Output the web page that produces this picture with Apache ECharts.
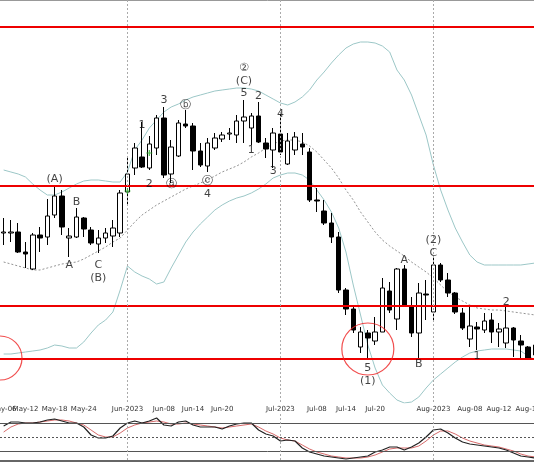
<!DOCTYPE html>
<html><head><meta charset="utf-8">
<script src="https://cdn.jsdelivr.net/npm/echarts@6/dist/echarts.min.js"></script>
<style>html,body{margin:0;padding:0;background:#fff}#c{width:534px;height:462px}</style>
</head><body><div id="c"></div>
<script>
// Values (vertical position units, larger = lower price). [open, close, high, low]
const candles = [
[233,232,218,245],[233,232,220,242],[232,252,223,253],[252,254,242,268],[269,235,233,270],
[235,238,227,252],[237,216,199,245],[215,196,187,218],[196,227,190,235],[238,236,228,257],
[237,217,208,238],[218,229,217,237],[230,243,227,245],[244,238,230,253],[238,233,228,243],
[236,228,220,247],[233,193,190,237],[192,174,158,205],[168,148,143,175],[157,167,122,168],
[168,144,136,170],[148,118,115,155],[118,175,107,178],[174,147,140,183],[156,123,120,157],
[124,126,110,128],[126,151,123,170],[151,165,143,167],[166,143,138,172],[148,138,133,150],
[139,135,132,142],[134,133,128,140],[135,121,115,143],[121,117,100,143],[128,116,113,145],
[116,142,102,143],[143,149,138,158],[150,133,128,168],[134,152,113,155],[164,141,133,165],
[150,137,132,155],[144,147,133,155],[152,200,148,202],[200,201,188,212],[211,223,200,225],
[223,237,213,243],[237,290,232,293],[290,309,288,315],[309,330,307,333],[347,332,327,353],
[333,338,330,358],[341,332,317,345],[332,288,278,332],[291,310,282,313],[319,269,268,330],
[269,305,265,305],[306,333,297,337],[333,293,283,358],[294,295,280,320],[312,265,257,320],
[265,280,263,282],[280,293,273,297],[293,312,292,314],[313,328,308,330],[339,326,305,347],
[327,329,322,350],[330,321,313,333],[320,332,313,343],[332,329,323,347],[343,328,305,348],
[328,340,327,357],[341,345,335,358],[347,358,346,360],[355,345,340,360]
];
const upperBand = [170,172,174,177,184,190,195,195,192,188,184,181,180,180,181,182,182,172,150,140,128,120,112,107,104,100,97,95,93,91,90,89,88,88,89,91,95,99,103,105,102,97,90,80,72,63,55,48,44,42,42,43,46,52,70,80,95,115,135,165,190,210,228,242,255,262,265,265,265,265,265,265,264,263];
const midBand = [262,264,266,268,270,270,268,266,264,263,262,259,255,251,247,242,238,230,222,215,210,205,201,197,193,189,186,183,180,176,172,169,166,162,157,153,148,144,141,140,140,142,146,152,160,168,178,190,200,212,222,232,240,246,251,256,262,267,272,278,285,292,297,301,305,308,309,310,310,311,312,313,314,315];
const lowerBand = [354,354,353,352,351,350,348,345,346,348,348,342,333,325,320,312,290,266,272,276,279,284,282,268,255,242,232,224,217,210,205,201,198,196,193,189,184,178,175,173,173,175,180,190,200,212,228,252,285,315,345,368,385,393,400,403,402,397,388,380,374,368,362,357,353,351,350,349,349,349,350,351,356,360];
const oscMain = [426,422,422,423,423,422,420,419,421,423,423,427,435,438,438,436,428,423,421,423,421,418,425,426,422,421,425,427,427,427,429,426,424,423,423,430,434,436,441,440,441,448,452,454,456,457,458,459,458,457,456,452,450,447,447,450,447,443,437,430,429,433,438,442,444,445,446,447,448,450,453,456,457,458];
const oscSignal = [432,427,424,423,423,422,421,420,420,421,423,425,430,435,437,437,433,428,425,423,422,421,422,424,424,423,424,425,426,427,428,427,426,425,424,427,431,434,438,440,441,445,449,452,454,456,457,458,458,458,457,455,452,449,448,448,448,446,441,435,431,431,434,438,441,443,445,446,447,449,451,454,456,457];
const tickLabels = {0:'May-06',3:'May-12',7:'May-18',11:'May-24',17:'Jun-2023',22:'Jun-08',26:'Jun-14',30:'Jun-20',38:'Jul-2023',43:'Jul-08',47:'Jul-14',51:'Jul-20',59:'Aug-2023',64:'Aug-08',68:'Aug-12',72:'Aug-18'};
const levels = [27,186,306,359];
const monthStarts = [17,38,59];
const waveLabels = [
[7,179,'(A)'],[10,202,'B'],[9,265,'A'],[13,265,'C'],[13,278,'(B)'],
[19,125,'1'],[20,184,'2'],[22,100,'3'],[25,105,'ⓑ'],[23,184,'ⓐ'],[28,181,'ⓒ'],[28,194,'4'],
[33,93,'5'],[33,81,'(C)'],[33,68,'②'],[35,96,'2'],[34,150,'1'],[38,114,'4'],[37,171,'3'],
[50,368,'5'],[50,381,'(1)'],[55,260,'A'],[57,364,'B'],[59,240,'(2)'],[59,253,'C'],
[65,356,'1'],[69,302,'2']
];
const circles = [[50,349,52],[-0.5,358,44],[73.6,347,56]];
const arrows = [[17,191],[20,153]];

const cats = candles.map((c,i)=>String(i));
const chart = echarts.init(document.getElementById('c'));
chart.setOption({
  animation:false,
  grid:[{left:0,top:0,width:539,height:403,outerBoundsMode:'none',containLabel:false},
        {left:0,top:414,width:539,height:47,outerBoundsMode:'none',containLabel:false}],
  xAxis:[
    {type:'category',data:cats,gridIndex:0,boundaryGap:true,
     axisLine:{lineStyle:{color:'#999'}},
     axisTick:{inside:false,length:3,interval:(i)=>tickLabels[i]!==undefined,lineStyle:{color:'#555'}},
     axisLabel:{interval:0,fontSize:7,color:'#333',margin:3,fontFamily:'DejaVu Sans',hideOverlap:false,formatter:(v,i)=>tickLabels[i]||''},
     splitLine:{show:false}},
    {type:'category',data:cats,gridIndex:1,boundaryGap:true,axisLine:{lineStyle:{color:'#333',width:1.5}},axisTick:{show:false},axisLabel:{show:false}},
    {type:'value',gridIndex:0,min:-0.5,max:73.5,show:false}
  ],
  yAxis:[
    {type:'value',gridIndex:0,inverse:true,min:0,max:403,show:false,splitLine:{show:false}},
    {type:'value',gridIndex:1,inverse:true,min:414,max:461,show:false,splitLine:{show:false}}
  ],
  series:[
    {type:'line',data:upperBand,xAxisIndex:0,yAxisIndex:0,symbol:'none',lineStyle:{color:'#9cc7c7',width:1},z:1},
    {type:'line',data:lowerBand,xAxisIndex:0,yAxisIndex:0,symbol:'none',lineStyle:{color:'#9cc7c7',width:1},z:1},
    {type:'line',data:midBand,xAxisIndex:0,yAxisIndex:0,symbol:'none',lineStyle:{color:'#777',width:0.8,type:[2,2]},z:1},
    {type:'candlestick',data:candles,xAxisIndex:0,yAxisIndex:0,barWidth:5,z:3,
     itemStyle:{color:'#000',borderColor:'#000',color0:'#fff',borderColor0:'#000',borderWidth:1},
     markLine:{silent:true,symbol:'none',label:{show:false},data:[
       ...levels.map(v=>({yAxis:v,lineStyle:{color:'#e00',width:1.8,type:'solid'}})),
       ...monthStarts.map(i=>({xAxis:i,lineStyle:{color:'#aaa',width:1,type:[2,2]}}))
     ]}},
    {type:'scatter',xAxisIndex:2,yAxisIndex:0,symbolSize:0,z:5,
     data:waveLabels.map(d=>({value:[d[0],d[1]],label:{show:true,formatter:d[2],position:'inside',fontSize:11,color:'#111',fontFamily:'DejaVu Sans'}}))},
    {type:'scatter',xAxisIndex:2,yAxisIndex:0,z:6,
     data:circles.map(d=>({value:[d[0],d[1]],symbolSize:d[2]})),
     itemStyle:{color:'rgba(0,0,0,0)',borderColor:'#e22',borderWidth:1.2}},
    {type:'scatter',xAxisIndex:2,yAxisIndex:0,z:6,symbol:'path://M0,4L10,4L10,6L0,6Z M4,0L6,0L6,10L4,10Z',symbolSize:6,
     data:arrows,itemStyle:{color:'#2a2'}},
    {type:'line',data:oscSignal,xAxisIndex:1,yAxisIndex:1,symbol:'none',lineStyle:{color:'#c44',width:0.8},z:2,
     markLine:{silent:true,symbol:'none',label:{show:false},data:[
       {yAxis:423,lineStyle:{color:'#555',width:1,type:'solid'}},
       {yAxis:437,lineStyle:{color:'#555',width:1,type:[2,2]}},
       {yAxis:451,lineStyle:{color:'#555',width:1,type:'solid'}},
       ...monthStarts.map(i=>({xAxis:i,lineStyle:{color:'#aaa',width:1,type:[2,2]}}))
     ]}},
    {type:'line',data:oscMain,xAxisIndex:1,yAxisIndex:1,symbol:'none',lineStyle:{color:'#222',width:1.2},z:3}
  ]
});
</script></body></html>
